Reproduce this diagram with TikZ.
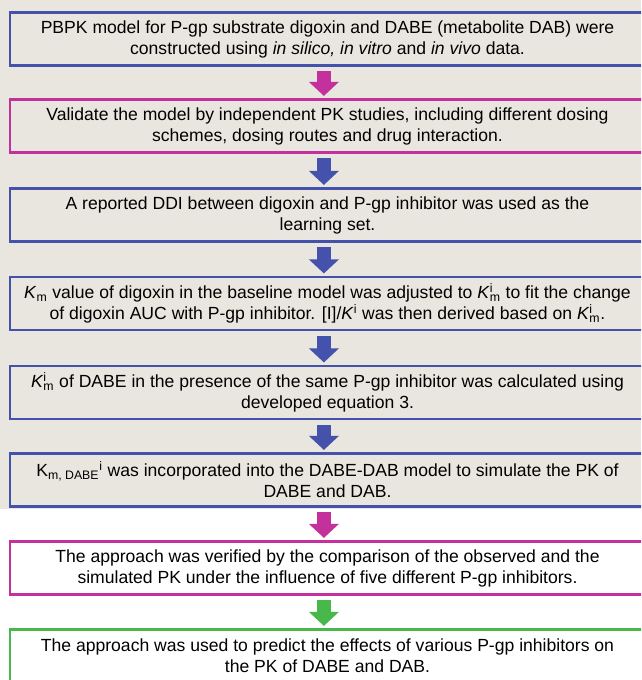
\documentclass[tikz,border=0pt]{standalone}
\usepackage{fontspec}
\setmainfont{Liberation Sans}
\usetikzlibrary{arrows.meta, positioning}
\definecolor{cblue}{HTML}{4452AC}
\definecolor{cmag}{HTML}{C4309C}
\definecolor{cgreen}{HTML}{48B84C}
\definecolor{cbeige}{HTML}{E8E6DE}
\newcommand{\Kmsup}[1]{\textit{K}\makebox[0pt][l]{\textsuperscript{#1}}\textsubscript{m}}
\tikzset{
  every picture/.style={font=\fontsize{12.5}{14.9}\selectfont},
  box/.style={draw=#1, line width=1.7pt, fill=cbeige, align=center, inner sep=0pt,
              minimum width=15.875cm, minimum height=1.325cm},
  box/.default=cblue,
  whitebox/.style={box=#1, fill=white},
  flow/.style={draw=#1, line width=0.35cm, line cap=rect, shorten <=0.285cm, shorten >=0.06cm,
               -{Triangle[length=0.35cm, width=0.75cm, line width=0pt, fill=#1]}},
}

\begin{document}
\begin{tikzpicture}[x=0.025cm, y=-0.025cm]
  \useasboundingbox (0,0) rectangle (641,680);
  \clip (0,0) rectangle (641,680);
  \fill[cbeige] (0,0) rectangle (641,509);
  % flowchart boxes
  \node[box] (model) at (327.5,39) {PBPK model for P-gp substrate digoxin and DABE (metabolite DAB) were\\ constructed using \textit{in silico, in vitro} and \textit{in vivo} data.};
  \node[box=cmag] (validate) at (327.5,126) {Validate the model by independent PK studies, including different dosing\\ schemes, dosing routes and drug interaction.};
  \node[box] (learn) at (327.5,215) {A reported DDI between digoxin and P-gp inhibitor was used as the\\ learning set.};
  \node[box] (adjust) at (327.5,303.5) {\Kmsup{} value of digoxin in the baseline model was adjusted to \Kmsup{i} to fit the change\\ of digoxin AUC with P-gp inhibitor. [I]/\textit{K}\textsuperscript{i} was then derived based on \Kmsup{i}.};
  \node[box] (calc) at (327.5,392.5) {\Kmsup{i} of DABE in the presence of the same P-gp inhibitor was calculated using\\ developed equation 3.};
  \node[box] (incorp) at (327.5,480) {K\textsubscript{m, DABE}\textsuperscript{i} was incorporated into the DABE-DAB model to simulate the PK of\\ DABE and DAB.};
  \node[whitebox=cmag] (verify) at (327.5,568) {The approach was verified by the comparison of the observed and the\\ simulated PK under the influence of five different P-gp inhibitors.};
  \node[whitebox=cgreen] (predict) at (327.5,656) {The approach was used to predict the effects of various P-gp inhibitors on\\ the PK of DABE and DAB.};
  % block arrows
  \foreach \a/\b/\c in {model/validate/cmag, validate/learn/cblue, learn/adjust/cblue,
                        adjust/calc/cblue, calc/incorp/cblue, incorp/verify/cmag, verify/predict/cgreen}
    \draw[flow=\c] ([xshift=-0.09cm]\a.south) -- ([xshift=-0.09cm]\b.north);
\end{tikzpicture}
\end{document}
